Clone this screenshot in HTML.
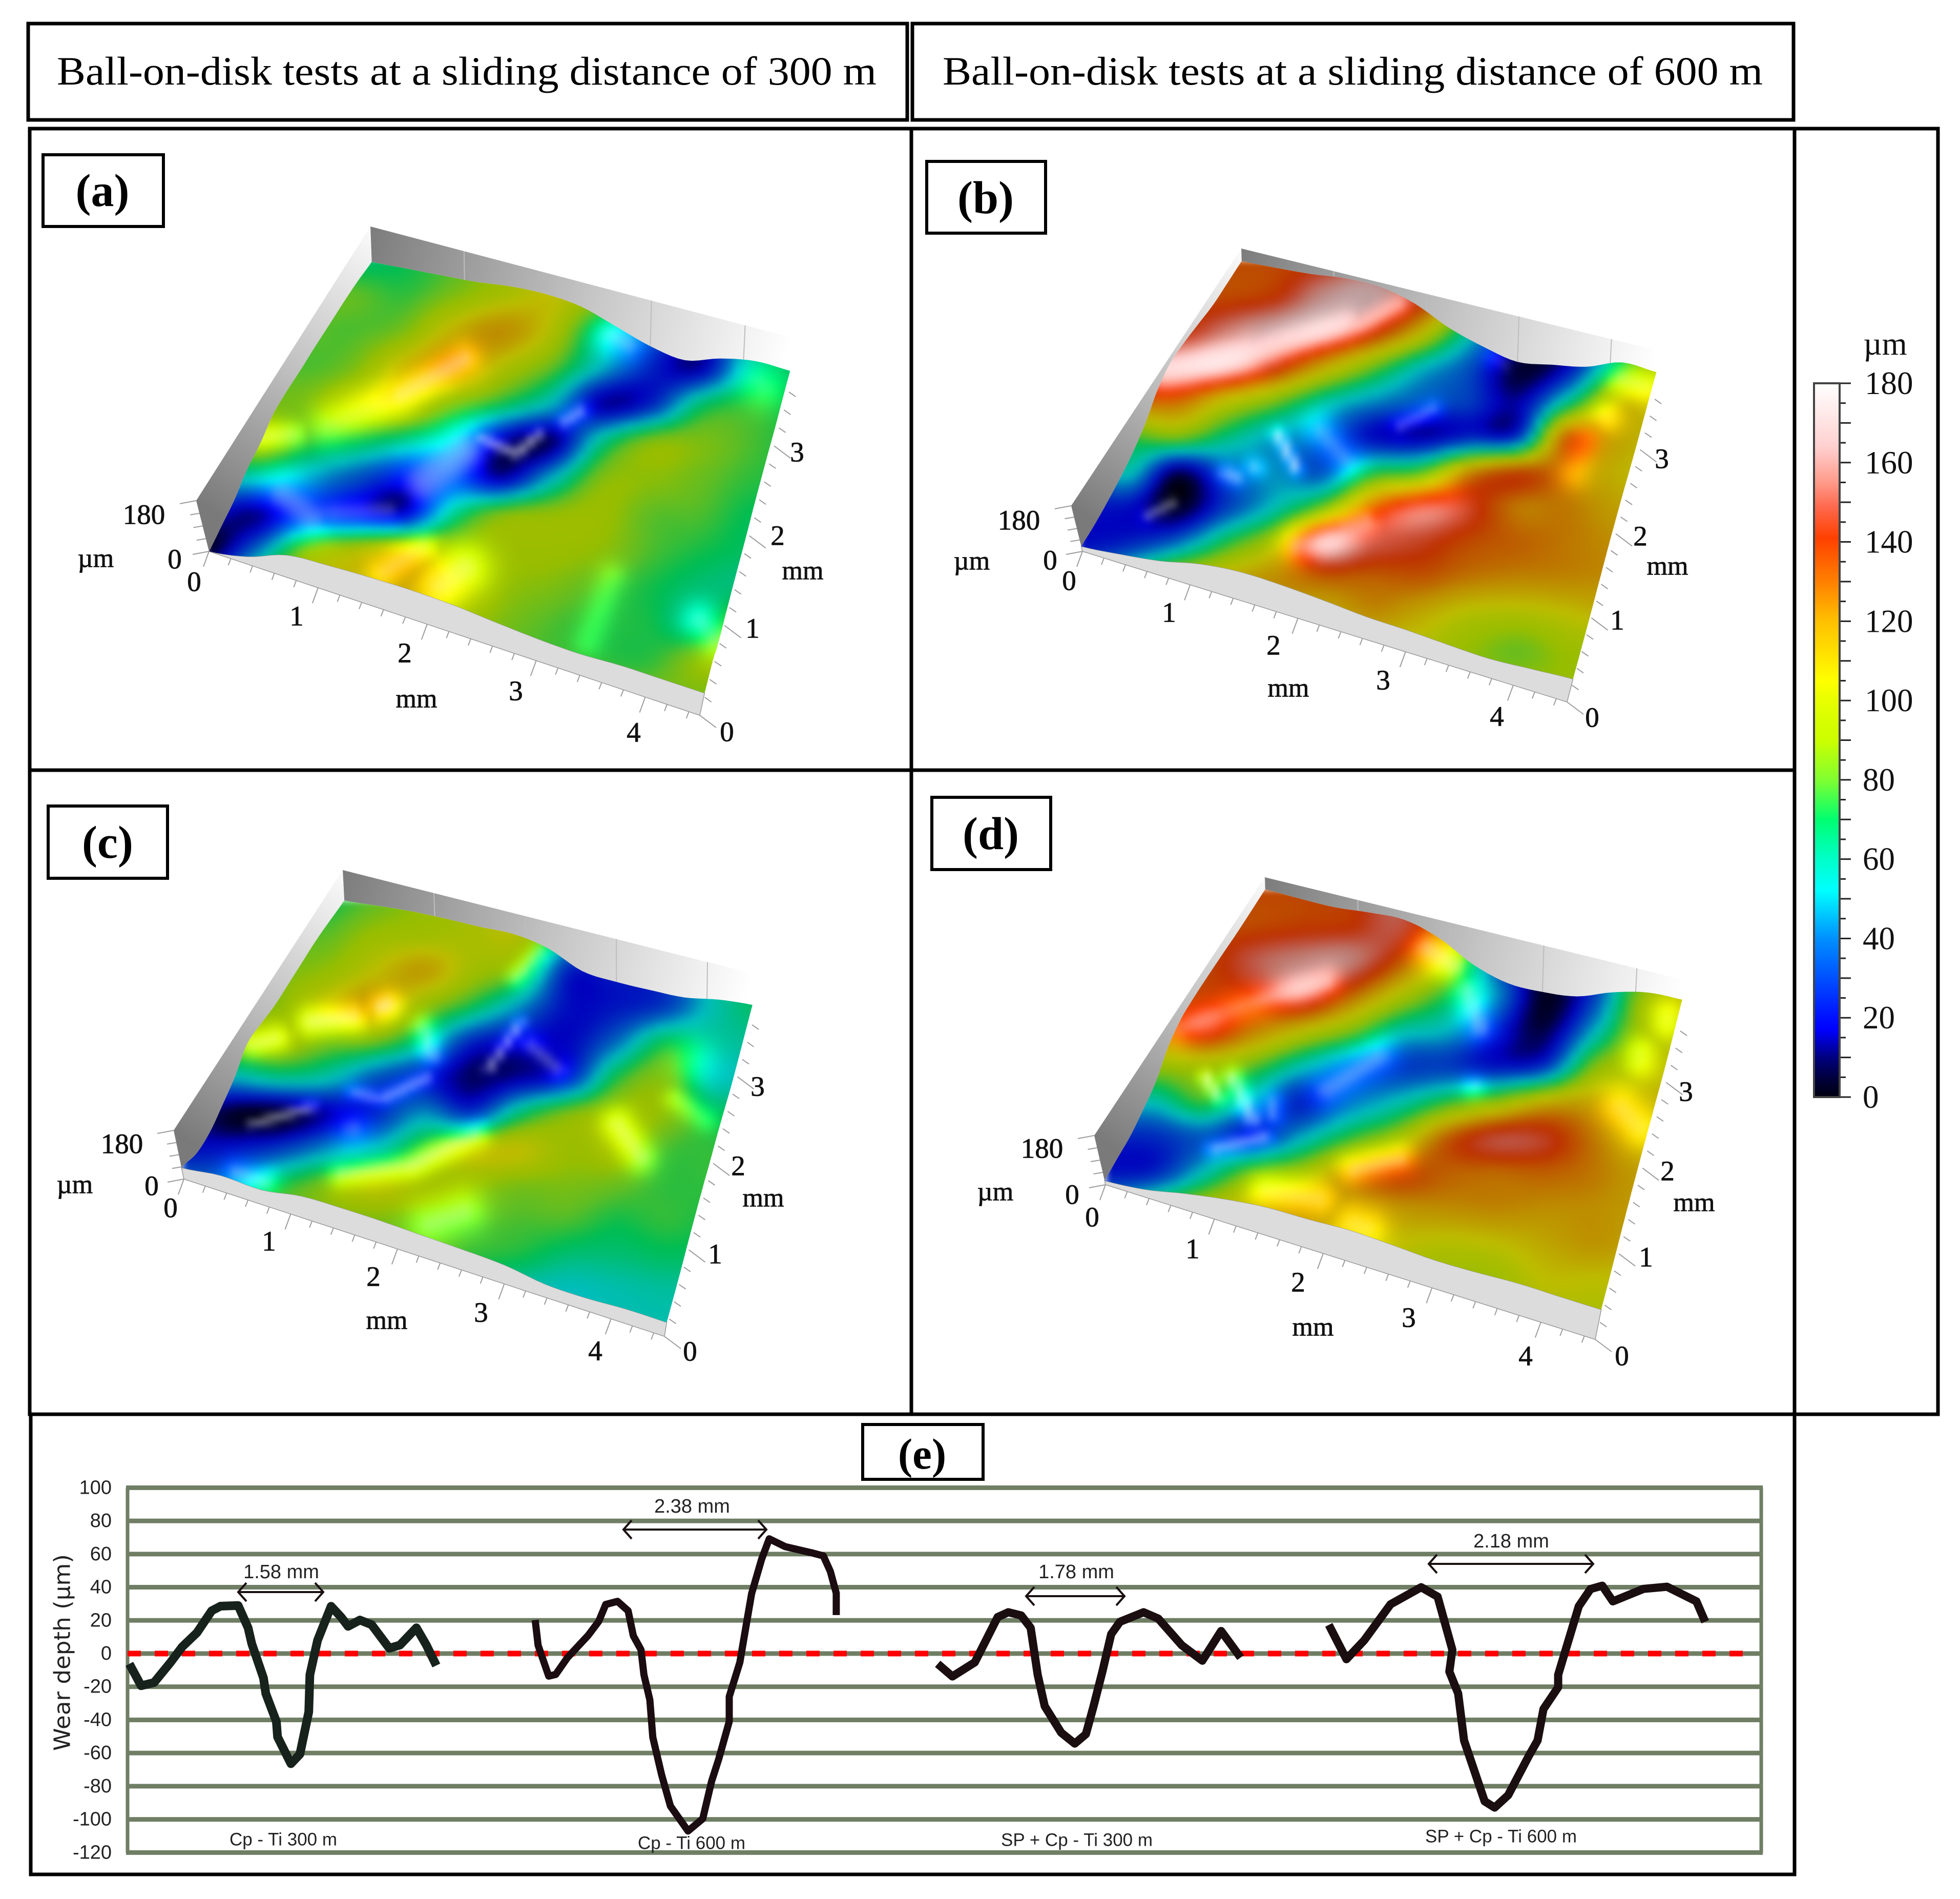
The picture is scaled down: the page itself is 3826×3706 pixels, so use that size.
<!DOCTYPE html>
<html lang="en">
<head>
<meta charset="utf-8">
<title>Ball-on-disk wear track surfaces and depth profiles</title>
<style>
html,body{margin:0;padding:0;background:#fff;}
svg{display:block;}
.hd{font-family:"Liberation Serif",serif;font-size:78px;fill:#000;}
.lb{font-family:"Liberation Serif",serif;font-weight:bold;font-size:90px;fill:#000;text-anchor:middle;}
.ax{font-family:"Liberation Serif",serif;font-size:55px;fill:#111;stroke:#111;stroke-width:0.8px;text-anchor:middle;dominant-baseline:central;}
.un{font-family:"Liberation Serif",serif;font-size:52px;fill:#111;stroke:#111;stroke-width:0.8px;text-anchor:middle;dominant-baseline:central;}
.cb{font-family:"Liberation Serif",serif;font-size:63px;fill:#111;dominant-baseline:central;}
.sn{font-family:"Liberation Sans",sans-serif;fill:#222;text-anchor:middle;dominant-baseline:central;}
</style>
</head>
<body>
<svg id="fig" xmlns="http://www.w3.org/2000/svg" width="3826" height="3706" viewBox="0 0 3826 3706">
<defs id="defs">
<filter id="soft" x="0" y="0" width="3826" height="3706" filterUnits="userSpaceOnUse" color-interpolation-filters="sRGB"><feGaussianBlur stdDeviation="7"/></filter>
</defs>
<rect x="0" y="0" width="3826" height="3706" fill="#fff"/>

<g fill="none" stroke="#000" stroke-width="7">
<rect x="55" y="46" width="1716" height="188"/>
<rect x="1781" y="46" width="1720" height="188"/>
<rect x="58" y="251" width="1721" height="1252"/>
<rect x="1779" y="251" width="1724" height="1252"/>
<rect x="58" y="1503" width="1721" height="1257"/>
<rect x="1779" y="1503" width="1724" height="1257"/>
<rect x="3503" y="251" width="280" height="2509"/>
<rect x="60" y="2760" width="3443" height="898"/>
</g>

<text class="hd" x="111" y="165" textLength="1600" lengthAdjust="spacingAndGlyphs">Ball-on-disk tests at a sliding distance of 300 m</text>
<text class="hd" x="1840" y="165" textLength="1601" lengthAdjust="spacingAndGlyphs">Ball-on-disk tests at a sliding distance of 600 m</text>

<g id="surfaces"></g>

<g fill="#fff" stroke="#000" stroke-width="6">
<rect x="84" y="302" width="235" height="140"/>
<rect x="1809" y="315" width="232" height="140"/>
<rect x="94" y="1573" width="233" height="141"/>
<rect x="1819" y="1556" width="232" height="141"/>
<rect x="1684" y="2780" width="235" height="107"/>
</g>
<text class="lb" x="200" y="402">(a)</text>
<text class="lb" x="1924" y="416">(b)</text>
<text class="lb" x="210" y="1674">(c)</text>
<text class="lb" x="1934" y="1657">(d)</text>
<text class="lb" x="1800" y="2866" style="font-size:85px">(e)</text>

<g>
<text class="ax" x="281" y="1004">180</text>
<text class="un" x="187" y="1090">µm</text>
<text class="ax" x="341" y="1091">0</text>
<text class="ax" x="379" y="1135">0</text>
<text class="ax" x="579" y="1202">1</text>
<text class="ax" x="790" y="1274">2</text>
<text class="ax" x="1007" y="1348">3</text>
<text class="ax" x="1237" y="1429">4</text>
<text class="ax" x="1419" y="1428">0</text>
<text class="un" x="813" y="1364">mm</text>
<text class="ax" x="1469" y="1226">1</text>
<text class="ax" x="1518" y="1045">2</text>
<text class="ax" x="1556" y="882">3</text>
<text class="un" x="1567" y="1114">mm</text>
</g>
<g>
<text class="ax" x="1989" y="1015">180</text>
<text class="un" x="1897" y="1095">µm</text>
<text class="ax" x="2050" y="1093">0</text>
<text class="ax" x="2087" y="1133">0</text>
<text class="ax" x="2282" y="1195">1</text>
<text class="ax" x="2486" y="1259">2</text>
<text class="ax" x="2700" y="1327">3</text>
<text class="ax" x="2922" y="1398">4</text>
<text class="ax" x="3108" y="1400">0</text>
<text class="un" x="2515" y="1343">mm</text>
<text class="ax" x="3157" y="1210">1</text>
<text class="ax" x="3202" y="1046">2</text>
<text class="ax" x="3244" y="895">3</text>
<text class="un" x="3255" y="1105">mm</text>
</g>
<g>
<text class="ax" x="238" y="2232">180</text>
<text class="un" x="146" y="2312">µm</text>
<text class="ax" x="296" y="2314">0</text>
<text class="ax" x="333" y="2357">0</text>
<text class="ax" x="525" y="2422">1</text>
<text class="ax" x="729" y="2491">2</text>
<text class="ax" x="939" y="2561">3</text>
<text class="ax" x="1162" y="2636">4</text>
<text class="ax" x="1347" y="2637">0</text>
<text class="un" x="755" y="2577">mm</text>
<text class="ax" x="1396" y="2447">1</text>
<text class="ax" x="1441" y="2275">2</text>
<text class="ax" x="1479" y="2120">3</text>
<text class="un" x="1490" y="2338">mm</text>
</g>
<g>
<text class="ax" x="2034" y="2241">180</text>
<text class="un" x="1943" y="2326">µm</text>
<text class="ax" x="2093" y="2331">0</text>
<text class="ax" x="2132" y="2375">0</text>
<text class="ax" x="2328" y="2437">1</text>
<text class="ax" x="2534" y="2502">2</text>
<text class="ax" x="2750" y="2571">3</text>
<text class="ax" x="2978" y="2646">4</text>
<text class="ax" x="3166" y="2646">0</text>
<text class="un" x="2563" y="2590">mm</text>
<text class="ax" x="3213" y="2453">1</text>
<text class="ax" x="3255" y="2285">2</text>
<text class="ax" x="3291" y="2130">3</text>
<text class="un" x="3307" y="2347">mm</text>
</g>

<g id="colorbar"></g>
<text class="cb" x="3680" y="671" text-anchor="middle">µm</text>

<g id="profile"></g>
<text class="sn" transform="translate(122,3225) rotate(-90)" style="font-family:'DejaVu Sans',sans-serif;font-size:44px" textLength="384" lengthAdjust="spacingAndGlyphs">Wear depth (µm)</text>
<text class="sn" x="549" y="3068" font-size="38">1.58 mm</text>
<text class="sn" x="1351" y="2940" font-size="38">2.38 mm</text>
<text class="sn" x="2101" y="3068" font-size="38">1.78 mm</text>
<text class="sn" x="2950" y="3008" font-size="38">2.18 mm</text>
</svg>

<script>
// ---------- colour scale ----------
const colorScaleValues = [0,5,10,17,20,30,40,52,60,70,75,80,90,95,100,105,112,120,130,141,149,155,164,172,180];
const colorScaleHex = ['#000010','#000040','#000080','#0000ff','#0010ff','#0050ff','#0090ff','#00ffff','#00ffc8','#00ff70','#40ff50','#80ff30','#ccff00','#d8ff00','#e8ff00','#ffff00','#ffe000','#ffc000','#ff8000','#ff4000','#ff6a50','#ff9a8a','#ffd0d0','#ffe8e8','#ffffff'];
const colorbarTicks = [0,20,40,60,80,100,120,140,160,180];

// ---------- surface (a): image-read height grid, rows top to bottom ----------
const gridA = [
[65,65,65,65,70,78,90,100,105,100,70,70,68],
[80,80,80,80,75,85,97,105,90,60,40,60,68],
[80,80,80,78,85,110,120,100,60,40,25,55,68],
[85,85,78,85,110,125,100,80,50,25,15,60,68],
[85,85,85,100,105,85,70,50,15,25,65,75,70],
[75,95,78,72,62,50,15,10,60,85,85,78,72],
[55,55,48,35,22,32,15,50,85,88,82,75,72],
[20,12,28,22,18,62,85,90,92,80,78,70,70],
[3,40,85,100,110,95,92,92,88,78,72,68,68],
[60,85,100,105,115,105,90,85,78,72,65,65,65],
[85,85,90,95,100,95,85,78,74,72,62,90,90],
[85,85,85,85,85,85,80,78,75,75,88,90,90],
[85,85,85,85,85,85,85,85,85,85,85,85,85]];
const backEdgeA = [65,73,81,90,105,110,100,65,30,14,50,72,70];
const frontEdgeA = [0,30,85,98,105,108,104,92,82,78,85,85,85];
const leftEdgeA = [0,12,25,50,62,85,88,85,85,82,80,75,65];
const rightEdgeA = [85,105,60,70,75,75,75,80,78,75,70,72,70];
const shineA = [[560,750,680,680,28,1.2],[680,680,790,595,22,1.5],[445,775,500,770,18,1.3],[480,910,530,960,35,1.4],[560,950,660,945,25,1.3],[720,880,790,810,45,1.5],[820,780,880,815,10,1.8],[880,815,915,770,10,1.8],[960,740,990,715,12,1.6],[1040,540,1070,560,25,1.4],[650,1090,720,1030,22,1.3],[750,1120,790,1080,35,1.4],[1190,1200,1220,1250,25,1.3],[1290,650,1300,660,30,1.2],[1000,1250,1040,1100,20,0.9]];

// ---------- surface (b) ----------
const gridB = [
[135,135,135,135,135,140,150,130,90,50,40,70,100],
[135,135,135,135,140,160,165,145,100,60,30,60,100],
[140,140,140,155,165,165,145,110,60,25,15,55,100],
[160,162,165,165,145,115,85,55,35,5,18,70,100],
[110,125,130,105,85,60,45,35,30,15,60,105,105],
[60,75,85,65,48,40,20,15,25,30,130,115,105],
[35,55,10,35,45,35,70,80,120,135,125,110,105],
[20,20,3,30,55,85,130,150,145,125,125,115,110],
[20,25,40,72,100,160,150,145,135,130,125,120,115],
[40,70,100,110,120,130,130,132,125,122,122,120,115],
[90,100,105,110,112,110,120,112,102,100,105,110,110],
[90,90,90,95,95,100,100,100,90,82,92,95,95],
[90,90,90,90,90,90,90,90,90,90,90,90,90]];
const backEdgeB = [136,142,150,165,165,135,78,40,15,35,58,105,100];
const frontEdgeB = [20,38,62,100,118,115,105,92,88,80,75,85,95];
const leftEdgeB = [20,22,30,42,60,90,135,158,155,145,135,135,136];
const rightEdgeB = [95,90,100,110,120,125,120,115,105,100,100,102,100];
const shineB = [[380,630,500,590,30,1.5],[500,590,650,520,22,1.45],[670,520,730,470,14,1.4],[580,1030,680,975,24,1.6],[680,970,800,920,30,0.9],[470,860,485,870,14,1.6],[510,845,515,848,14,1.5],[548,770,575,850,10,1.9],[610,760,650,830,24,1.3],[730,750,780,710,14,1.4],[350,960,395,925,10,1.6],[870,590,890,610,15,1.2],[1060,640,1100,660,22,1.3],[1010,780,990,860,22,1.0],[1040,730,1040,730,22,1.2]];

// ---------- surface (c) ----------
const gridC = [
[70,70,70,72,80,90,95,100,80,60,40,55,68],
[80,80,80,80,92,95,98,100,60,45,35,55,68],
[85,85,85,90,105,115,95,80,25,25,30,55,68],
[88,88,88,105,118,90,70,45,20,22,30,55,68],
[90,90,95,85,82,60,25,18,18,40,70,60,60],
[50,50,60,55,35,25,10,15,25,72,85,55,58],
[20,5,3,15,25,45,30,65,85,92,88,70,70],
[20,22,30,45,55,80,100,105,92,95,78,75,75],
[42,45,70,85,100,95,90,85,85,82,75,75,75],
[60,70,80,85,85,82,80,78,78,72,75,72,72],
[80,80,80,80,80,80,75,72,65,65,68,68,68],
[60,60,60,60,60,60,60,55,52,55,58,58,58],
[55,55,55,55,55,55,55,55,55,55,55,55,55]];
const backEdgeC = [70,82,93,98,100,105,85,35,28,30,35,58,70];
const frontEdgeC = [42,62,58,85,90,90,86,82,75,52,50,58,58];
const leftEdgeC = [42,15,15,35,60,100,95,85,85,85,85,78,70];
const rightEdgeC = [58,58,62,72,75,75,70,70,65,58,60,65,70];
const shineC = [[530,605,600,595,20,1.5],[430,660,470,645,18,1.4],[650,570,660,565,18,1.7],[580,970,700,950,18,1.4],[700,950,810,875,18,1.5],[430,850,530,810,10,1.7],[600,775,650,790,12,1.5],[650,790,725,740,12,1.6],[830,720,885,610,10,1.7],[900,660,950,720,18,1.4],[720,620,735,690,16,1.5],[880,500,920,440,14,1.4],[1050,850,1090,930,22,1.4],[1150,790,1200,840,16,1.1],[400,965,450,990,20,1.4],[600,860,600,860,28,1.3],[730,1090,790,1060,30,1.3],[1180,700,1180,700,32,1.1]];

// ---------- surface (d) ----------
const gridD = [
[136,136,136,136,136,140,150,140,100,60,40,60,100],
[135,135,135,135,138,140,150,120,80,40,35,60,100],
[135,135,135,150,158,158,135,100,40,10,30,70,105],
[130,130,138,140,155,130,100,72,45,3,30,90,105],
[125,125,145,125,105,85,58,50,25,8,50,95,100],
[90,90,95,80,55,38,30,30,22,30,85,100,105],
[55,55,75,48,25,40,55,75,90,110,115,110,108],
[25,26,35,25,50,75,95,130,148,145,125,110,108],
[22,26,55,85,95,120,135,130,128,130,125,115,110],
[60,80,100,110,118,115,118,120,122,120,120,115,110],
[100,105,105,108,108,108,105,102,105,112,118,112,110],
[100,100,100,100,100,100,98,95,95,105,105,105,105],
[100,100,100,100,100,100,100,100,100,100,100,100,100]];
const backEdgeD = [136,133,133,145,150,115,50,15,15,30,75,105,110];
const frontEdgeD = [15,30,62,88,105,108,114,108,100,102,108,106,105];
const leftEdgeD = [15,20,25,42,65,110,135,140,140,138,135,135,136];
const rightEdgeD = [105,105,112,118,120,118,115,110,105,100,100,105,110];
const shineD = [[400,620,520,555,24,1.35],[520,555,620,510,20,1.55],[770,430,810,470,24,1.5],[830,530,850,620,22,1.5],[440,740,460,790,10,1.7],[480,740,510,840,14,1.7],[450,910,530,880,12,1.6],[540,800,540,830,16,1.4],[620,770,700,690,25,1.4],[660,960,730,935,20,1.4],[530,1010,610,1030,24,1.3],[840,760,840,760,16,1.4],[1060,810,1090,860,28,1.3],[1090,680,1090,700,22,1.2],[660,1090,680,1100,28,1.3],[1130,590,1130,610,22,1.2]];

// ---------- wear profile chart (e) ----------
const depthTicks = [100,80,60,40,20,0,-20,-40,-60,-80,-100,-120];
const cpTi300Pos = [0.11,0.83,1.62,2.63,3.35,4.25,5.15,5.69,6.77,7.38,7.6,8.32,8.46,9.11,9.18,10.0,10.55,11.09,11.16,11.63,12.46,13.07,13.5,14.22,14.94,16.02,16.67,17.68,18.29,18.9];
const cpTi300Depth = [-6.2,-19.4,-17.5,-5.3,4.1,12.6,25.8,28.6,29,15.5,6,-14.7,-24.1,-41,-50.3,-66.4,-60.7,-35.2,-12.8,8,28.5,22,16.4,20.2,17.4,3.2,5.1,15.5,5.1,-7.2];
const cpTi600Pos = [24.95,25.13,25.78,26.21,26.93,28.19,28.84,29.27,29.99,30.64,30.96,31.43,31.61,31.97,32.15,32.69,33.23,34.31,35.21,35.75,36.18,36.83,36.83,37.48,37.84,38.2,38.81,39.28,40.25,41.87,42.59,43.02,43.38,43.38];
const cpTi600Depth = [20.2,5,-13.6,-12.6,-2.4,10.9,19.4,29.6,31.5,25.8,10.7,2.3,-12.8,-27.9,-50.5,-73.1,-92,-107,-99.6,-77,-63.8,-41,-26,-5.3,15.5,36.2,56.9,69.2,64.5,60.8,58.9,49.5,36.4,23.2];
const spTi300Pos = [49.59,50.49,51.86,52.54,53.26,53.91,54.7,55.28,55.71,56.14,57.15,57.98,58.66,59.13,59.67,60.21,60.75,62.19,63.09,64.53,65.79,66.94,68.13];
const spTi300Depth = [-6.2,-13.8,-5.3,7.9,22,24.9,23,15.5,-12.8,-31.7,-47.7,-54.3,-48.6,-31.7,-10.9,11.7,19.2,24.9,21.1,5,-4.3,13.6,-2.4];
const spTi600Pos = [73.53,74.61,75.69,77.31,79.18,80.19,81.09,80.91,81.45,81.81,83.07,83.68,84.51,85.77,86.31,86.67,87.57,87.57,88.83,89.55,90.27,90.92,92.79,94.23,96.03,96.57];
const spTi600Depth = [17.3,-3.4,7.9,29.7,40,34.3,2.3,-10.9,-24.1,-52.4,-89.1,-92.9,-85.4,-61.8,-52.4,-33.5,-20.3,-12.8,28.5,38.9,40.9,31.5,39,40.3,31.5,19.2];
const seriesLabels = ['Cp - Ti 300 m','Cp - Ti 600 m','SP + Cp - Ti 300 m','SP + Cp - Ti 600 m'];

// ---------- helpers ----------
const NS = 'http://www.w3.org/2000/svg';
function make(tag, attrs, parent){
  const el = document.createElementNS(NS, tag);
  for (const k in attrs) el.setAttribute(k, attrs[k]);
  parent.appendChild(el);
  return el;
}
function hexRgb(h){ return [parseInt(h.slice(1,3),16),parseInt(h.slice(3,5),16),parseInt(h.slice(5,7),16)]; }
function colorOf(v){
  const a = colorScaleValues;
  if (v <= a[0]) return hexRgb(colorScaleHex[0]);
  for (let i = 1; i < a.length; i++){
    if (v <= a[i]){
      const t = (v-a[i-1])/(a[i]-a[i-1]);
      const p = hexRgb(colorScaleHex[i-1]), q = hexRgb(colorScaleHex[i]);
      return [p[0]+(q[0]-p[0])*t, p[1]+(q[1]-p[1])*t, p[2]+(q[2]-p[2])*t];
    }
  }
  return [255,255,255];
}
function cr(a,b,c,d,t){ return 0.5*((2*b)+(-a+c)*t+(2*a-5*b+4*c-d)*t*t+(-a+3*b-3*c+d)*t*t*t); }
function sampleLine(arr,t){
  const n = arr.length-1, x = Math.min(Math.max(t,0),1)*n;
  const i = Math.min(Math.floor(x),n-1), f = x-i;
  return cr(arr[Math.max(i-1,0)],arr[i],arr[i+1],arr[Math.min(i+2,n)],f);
}
function sampleGrid(g,gx,gy){
  const nx = g[0].length-1, ny = g.length-1;
  const j = Math.min(Math.floor(gy),ny-1), fy = gy-j;
  const rows = [Math.max(j-1,0),j,j+1,Math.min(j+2,ny)];
  const v = rows.map(r => sampleLine(g[r], gx/nx));
  return Math.max(0,Math.min(180,cr(v[0],v[1],v[2],v[3],fy)));
}
function inPoly(pt,poly){
  let c = false;
  for (let i=0,j=poly.length-1;i<poly.length;j=i++){
    if ((poly[i][1]>pt[1])!==(poly[j][1]>pt[1]) &&
        pt[0] < (poly[j][0]-poly[i][0])*(pt[1]-poly[i][1])/(poly[j][1]-poly[i][1])+poly[i][0]) c = !c;
  }
  return c;
}
function segDist(px,py,s){
  const dx=s[2]-s[0], dy=s[3]-s[1], l=dx*dx+dy*dy;
  let t = l ? ((px-s[0])*dx+(py-s[1])*dy)/l : 0;
  t = Math.max(0,Math.min(1,t));
  return Math.hypot(px-s[0]-t*dx, py-s[1]-t*dy);
}
function pts(list){ return list.map(p => p[0].toFixed(1)+','+p[1].toFixed(1)).join(' '); }

// ---------- panel geometry (layout only) ----------
const panels = [
 {id:'a',grid:gridA,back:backEdgeA,front:frontEdgeA,left:leftEdgeA,right:rightEdgeA,shine:shineA,
  L:[408,1076],F:[1366,1396],B:[727,550],R:[1540,765],zL:[-25,-99],zF:[20,-92],zB:[-4,-108],zR:[6,-106],
  ox:0,sx:1.148,oy:200,sy:0.842,gx:350,gdx:84,gy:360,gdy:85},
 {id:'b',grid:gridB,back:backEdgeB,front:frontEdgeB,left:leftEdgeB,right:rightEdgeB,shine:shineB,
  L:[2113,1076],F:[3059,1370],B:[2426,585],R:[3230,779],zL:[-22,-89],zF:[22,-85],zB:[-3,-100],zR:[6,-95],
  ox:1780,sx:1.305,oy:200,sy:0.842,gx:250,gdx:73,gy:365,gdy:82},
 {id:'c',grid:gridC,back:backEdgeC,front:frontEdgeC,left:leftEdgeC,right:rightEdgeC,shine:shineC,
  L:[359,2301],F:[1297,2608],B:[674,1795],R:[1468,2000],zL:[-20,-95],zF:[14,-85],zB:[-5,-97],zR:[2,-100],
  ox:0,sx:1.148,oy:1500,sy:0.816,gx:310,gdx:82,gy:315,gdy:85},
 {id:'d',grid:gridD,back:backEdgeD,front:frontEdgeD,left:leftEdgeD,right:rightEdgeD,shine:shineD,
  L:[2158,2312],F:[3114,2614],B:[2472,1808],R:[3280,2012],zL:[-22,-96],zF:[20,-100],zB:[-3,-96],zR:[6,-100],
  ox:1780,sx:1.305,oy:1500,sy:0.816,gx:290,gdx:73,gy:288,gdy:85}
];
const xMaxMm = 4.5, yMaxMm = 3.6, zMaxUm = 180;
const SUB = 6, EDGE_SUB = 5;
const SHINE_WIDTH = 1.5, SHINE_GAIN = 0.7;

const surfacesRoot = document.getElementById('surfaces');
const defs = document.getElementById('defs');

panels.forEach(function(P){
  function bil(a,b,c,d,u,v,k){ return (1-u)*(1-v)*a[k]+u*(1-v)*b[k]+(1-u)*v*c[k]+u*v*d[k]; }
  function proj(u,v,z){
    const f=z/zMaxUm;
    return [bil(P.L,P.F,P.B,P.R,u,v,0)+bil(P.zL,P.zF,P.zB,P.zR,u,v,0)*f,
            bil(P.L,P.F,P.B,P.R,u,v,1)+bil(P.zL,P.zF,P.zB,P.zR,u,v,1)*f];
  }
  const N = 12*EDGE_SUB;
  const frontPts=[], rightPts=[], backPts=[], leftPts=[];
  for (let i=0;i<=N;i++){
    const t=i/N;
    frontPts.push(proj(t,0,sampleLine(P.front,t)));
    rightPts.push(proj(1,t,sampleLine(P.right,t)));
    backPts.push(proj(t,1,sampleLine(P.back,t)));
    leftPts.push(proj(0,t,sampleLine(P.left,t)));
  }
  const outline = frontPts.concat(rightPts, backPts.slice().reverse(), leftPts.slice().reverse());

  const g = make('g',{},surfacesRoot);
  
  

  // gradients
  const tL=proj(0,0,zMaxUm), tB=proj(0,1,zMaxUm), tR=proj(1,1,zMaxUm);
  const g1=make('linearGradient',{id:'bw'+P.id,gradientUnits:'userSpaceOnUse',x1:tB[0],y1:tB[1],x2:tR[0],y2:tR[1]},defs);
  make('stop',{offset:'0','stop-color':'#7c7c7c'},g1);
  make('stop',{offset:'0.55','stop-color':'#c8c8c8'},g1);
  make('stop',{offset:'1','stop-color':'#ffffff'},g1);
  const g2=make('linearGradient',{id:'lw'+P.id,gradientUnits:'userSpaceOnUse',x1:tL[0],y1:tL[1],x2:tB[0],y2:tB[1]},defs);
  make('stop',{offset:'0','stop-color':'#7a7a7a'},g2);
  make('stop',{offset:'0.5','stop-color':'#c0c0c0'},g2);
  make('stop',{offset:'1','stop-color':'#fbfbfb'},g2);

  const backWall=make('polygon',{points:pts([tB,tR].concat(backPts.slice().reverse())),fill:'url(#bw'+P.id+')'},g);
  
  
  const leftWall=make('polygon',{points:pts([tL,tB].concat(leftPts.slice().reverse())),fill:'url(#lw'+P.id+')'},g);
  
  

  // wall grid lines at the mm marks
  for (let mm=1;mm<=4;mm++){
    const u=mm/xMaxMm, top=proj(u,1,zMaxUm), bot=proj(u,1,sampleLine(P.back,u));
    const wl=make('line',{x1:top[0],y1:top[1],x2:bot[0],y2:bot[1],stroke:'#bdbdbd','stroke-width':2},g);
    
    
  }

  const skirt=make('polygon',{points:pts(frontPts.concat([proj(1,0,0),proj(0,0,0)])),fill:'#dcdcdc',stroke:'#9a9a9a','stroke-width':1.5},g);
  
  

  // surface cells
  const clip=make('clipPath',{id:'clip'+P.id},defs);
  make('polygon',{points:pts(outline)},clip);
  const wrap=make('g',{'clip-path':'url(#clip'+P.id+')'},g);
  
  
  const surf=make('g',{filter:'url(#soft)','shape-rendering':'crispEdges'},wrap);
  
  

  const cellW=P.gdx*P.sx/SUB, cellH=P.gdy*P.sy/SUB;
  const x0=P.ox+P.gx*P.sx, y0=P.oy+P.gy*P.sy;
  const shineSegs=P.shine.map(s=>[P.ox+s[0]*P.sx,P.oy+s[1]*P.sy,P.ox+s[2]*P.sx,P.oy+s[3]*P.sy,s[4]*SHINE_WIDTH,s[5]]);
  const offs=[[0,0],[30,0],[-30,0],[0,30],[0,-30],[24,24],[-24,24],[24,-24],[-24,-24]];
  const nRows=P.grid.length-1, nCols=P.grid[0].length-1;
  for (let r=0;r<nRows*SUB;r++){
    for (let c=0;c<nCols*SUB;c++){
      const gx=(c+0.5)/SUB, gy=(r+0.5)/SUB;
      const px=x0+gx*SUB*cellW, py=y0+gy*SUB*cellH;
      let near=false;
      for (const o of offs){ if (inPoly([px+o[0],py+o[1]],outline)){ near=true; break; } }
      if (!near) continue;
      const val=sampleGrid(P.grid,gx,gy);
      let s=0;
      for (const seg of shineSegs){
        const d=segDist(px,py,seg);
        const e=seg[5]*Math.exp(-(d*d)/(seg[4]*seg[4]));
        if (e>s) s=e;
      }
      const col=colorOf(val);
      const f=0.74+0.26*Math.min(s,1);
      const w=Math.max(0,s-1)*SHINE_GAIN;
      const rgb=col.map(ch=>{
        const b=ch*f;
        return Math.round(Math.min(255,b+(255-b)*Math.min(w,0.95)));
      });
      const cell=make('rect',{x:(px-cellW/2).toFixed(1),y:(py-cellH/2).toFixed(1),width:(cellW+1).toFixed(1),height:(cellH+1).toFixed(1),fill:'rgb('+rgb.join(',')+')'},surf);
      
      
    }
  }

  // axis ticks
  const ticks=make('g',{stroke:'#9c9c9c','stroke-width':2},g);
  
  
  for (let t=0;t<=xMaxMm/0.2;t++){
    const mm=t*0.2, major=(t%5===0), a=proj(mm/xMaxMm,0,0);
    const tk=make('line',{x1:a[0],y1:a[1],x2:a[0]+(major?-11:-5),y2:a[1]+(major?30:13)},ticks);
    
    
  }
  for (let t=0;t<=yMaxMm/0.2;t++){
    const mm=t*0.2, major=(t%5===0), a=proj(1,mm/yMaxMm,0);
    const tk=make('line',{x1:a[0],y1:a[1],x2:a[0]+(major?32:13),y2:a[1]+(major?24:9)},ticks);
    
    
  }
  for (let z=0;z<=zMaxUm;z+=45){
    const major=(z===0||z===zMaxUm), a=proj(0,0,z);
    const tk=make('line',{x1:a[0],y1:a[1],x2:a[0]+(major?-32:-18),y2:a[1]+(major?6:3)},ticks);
    
    
  }
});

// ---------- colorbar ----------
(function(){
  const root=document.getElementById('colorbar');
  const yBar=v=>2141-(v/180)*(2141-748);
  const grad=make('linearGradient',{id:'cbar',x1:0,y1:1,x2:0,y2:0},defs);
  colorScaleValues.forEach(function(v,i){
    make('stop',{offset:(v/180).toFixed(4),'stop-color':colorScaleHex[i]},grad);
  });
  const bar=make('rect',{x:3541,y:yBar(180),width:50,height:yBar(0)-yBar(180),fill:'url(#cbar)',stroke:'#444','stroke-width':4},root);
  
  
  for (let v=0;v<=180;v+=5){
    const major=(v%10===0);
    const t=make('line',{x1:3593,x2:major?3613:3603,y1:yBar(v),y2:yBar(v),stroke:'#222','stroke-width':3},root);
    
    
  }
  colorbarTicks.forEach(function(v){
    const t=make('text',{class:'cb',x:v<100?3636:3640,y:yBar(v)},root);
    t.textContent=String(v);
    
    
  });
})();

// ---------- wear depth chart ----------
(function(){
  const root=document.getElementById('profile');
  const xScale=p=>249+3189*p/100;
  const yScale=v=>3227-3.236*v;
  depthTicks.forEach(function(v){
    const l=make('line',{x1:xScale(0)-3,x2:xScale(100)+3,y1:yScale(v),y2:yScale(v),stroke:'#6f7e64','stroke-width':9},root);
    
    
    const t=make('text',{class:'sn',x:218,y:yScale(v),'font-size':38,style:'text-anchor:end'},root);
    t.textContent=String(v);
    
    
  });
  [0,100].forEach(function(p){
    const l=make('line',{x1:xScale(p),x2:xScale(p),y1:yScale(100),y2:yScale(-120),stroke:'#6f7e64','stroke-width':7},root);
    
    
  });
  const zero=make('line',{x1:xScale(0),x2:3415,y1:yScale(0),y2:yScale(0),stroke:'#ff0000','stroke-width':11,'stroke-dasharray':'26 27'},root);
  
  

  const series=[
    {name:'cp-ti-300m-profile',xs:cpTi300Pos,ys:cpTi300Depth,w:17,c:'#16221b'},
    {name:'cp-ti-600m-profile',xs:cpTi600Pos,ys:cpTi600Depth,w:14,c:'#1a0c10'},
    {name:'sp-cp-ti-300m-profile',xs:spTi300Pos,ys:spTi300Depth,w:16,c:'#1a0e10'},
    {name:'sp-cp-ti-600m-profile',xs:spTi600Pos,ys:spTi600Depth,w:16,c:'#1a0e10'}
  ];
  series.forEach(function(s){
    const p=s.xs.map((x,i)=>[xScale(x),yScale(s.ys[i])]);
    const pl=make('polyline',{points:pts(p),fill:'none',stroke:s.c,'stroke-width':s.w,'stroke-linejoin':'round'},root);
    
    
  });

  const labelX=[553,1350,2102,2930], labelY=[3590,3597,3591,3584];
  seriesLabels.forEach(function(txt,i){
    const t=make('text',{class:'sn',x:labelX[i],y:labelY[i],'font-size':35},root);
    t.textContent=txt;
    
    
  });

  const arrows=[[465,631,3107],[1217,1496,2985],[2003,2195,3115],[2789,3110,3052]];
  arrows.forEach(function(a){
    const d='M'+a[0]+' '+a[2]+'H'+a[1]+
      'M'+(a[0]+16)+' '+(a[2]-18)+'L'+a[0]+' '+a[2]+'L'+(a[0]+16)+' '+(a[2]+18)+
      'M'+(a[1]-16)+' '+(a[2]-18)+'L'+a[1]+' '+a[2]+'L'+(a[1]-16)+' '+(a[2]+18);
    const ar=make('path',{d:d,fill:'none',stroke:'#1a1010','stroke-width':4},root);
    
    
  });
})();
</script>
</body>
</html>
